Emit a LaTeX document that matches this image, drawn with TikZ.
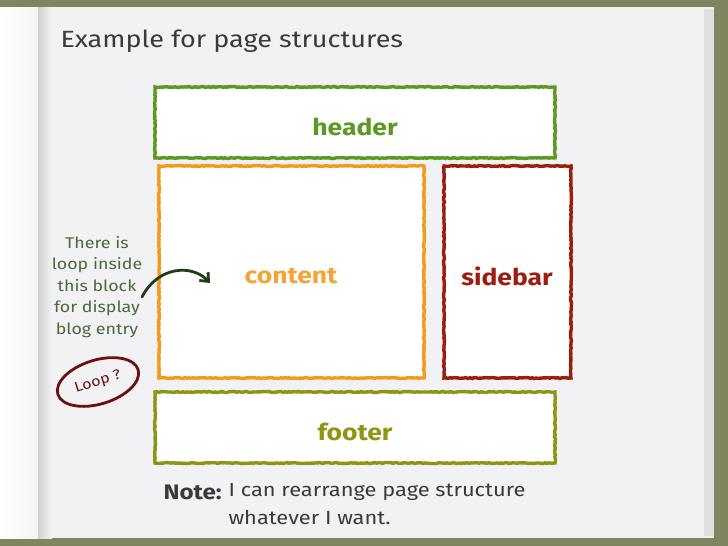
\documentclass[tikz,border=0pt]{standalone}
\usepackage{fontspec}
\setmainfont{Fira Sans}[FakeStretch=1.15]
\usetikzlibrary{shapes.geometric,decorations.pathmorphing,arrows.meta}
\definecolor{frameol}{HTML}{7D865F}
\definecolor{paper}{HTML}{F2F2F5}
\definecolor{hdrc}{HTML}{5A9A22}
\definecolor{cntc}{HTML}{F29A1D}
\definecolor{sidc}{HTML}{9C1C0E}
\definecolor{ftrc}{HTML}{8E9512}
\definecolor{notec}{HTML}{3A3A3A}
\definecolor{sidetxt}{HTML}{4A6B35}
\definecolor{arrc}{HTML}{1F3D17}
\definecolor{loopc}{HTML}{6B0F0F}
\tikzset{
  crayon/.style={draw=#1, line width=3.4pt, fill=white,
    decorate, decoration={random steps, segment length=2pt, amplitude=0.5pt}},
  blocklbl/.style={text=#1, font=\fontsize{23}{26}\selectfont\bfseries},
  sidenote/.style={text=sidetxt, font=\fontsize{15.5}{21.5}\selectfont, align=center},
  notetxt/.style={text=notec, font=\fontsize{19}{26}\selectfont, anchor=west},
}
\pgfmathsetseed{7}
\begin{document}
\begin{tikzpicture}[x=1pt,y=-1pt]
\useasboundingbox (0,0) rectangle (728,546);
% background
\fill[frameol] (0,0) rectangle (728,546);
\fill[paper] (0,7) rectangle (714,538);
\fill[black!12] (704,9) rectangle (714,536);
\shade[left color=white, right color=white!96!black] (0,7) rectangle (38,538);
\shade[left color=black!18, right color=paper] (38,7) rectangle (52,538);
% title
\node[text=notec, font=\fontsize{23.5}{26}\selectfont, anchor=west] (title) at (57,41) {Example for page structures};
% blocks
\node[crayon=hdrc, minimum width=400pt, minimum height=71pt] (header) at (355,122.5) {};
\node[blocklbl=hdrc] (headerlbl) at (355,127) {header};
\node[crayon=cntc, minimum width=265pt, minimum height=212pt] (content) at (291.5,272) {};
\node[blocklbl=cntc!90!white] (contentlbl) at (291,276) {content};
\node[crayon=sidc, minimum width=127pt, minimum height=212pt] (sidebar) at (507.5,272) {};
\node[blocklbl=sidc] (sidebarlbl) at (507,276) {sidebar};
\node[crayon=ftrc, minimum width=400pt, minimum height=71pt] (footer) at (355,427.5) {};
\node[blocklbl=ftrc] (footerlbl) at (355,432) {footer};
% side note
\node[sidenote] (side) at (97,287) {There is\\loop inside\\this block\\for display\\blog entry};
\coordinate (arrS) at (142,297);
\coordinate (arrE) at (210,283);
\draw[arrc, line width=2.8pt, line cap=round, -{Straight Barb[length=7pt,width=12pt]}]
  (arrS) .. controls (158,266) and (192,264) .. (arrE);
% loop bubble
\node[ellipse, draw=loopc, line width=2.8pt, rotate=17, minimum width=84pt, minimum height=44pt,
  inner sep=1pt, text=loopc, font=\fontsize{14}{16}\selectfont] (loop) at (98,382) {Loop ?};
% note
\node[notetxt, font=\fontsize{21}{26}\selectfont\bfseries] (notehd) at (160,492) {Note:};
\node[notetxt] (note1) at (225,492) {I can rearrange page structure};
\node[notetxt] (note2) at (225,518) {whatever I want.};
\end{tikzpicture}
\end{document}
